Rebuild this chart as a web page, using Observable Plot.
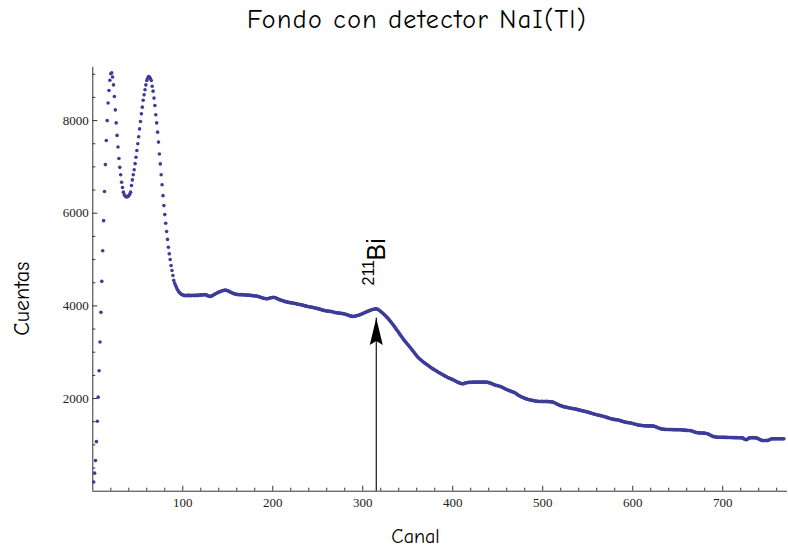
<!DOCTYPE html>
<html>
<head>
<meta charset="utf-8">
<script src="https://cdn.jsdelivr.net/npm/d3@7"></script>
<script src="https://cdn.jsdelivr.net/npm/@observablehq/plot@0.6"></script>
<style>
  html, body { margin: 0; padding: 0; background: #fff; }
  #chart { position: relative; width: 788px; height: 548px; overflow: hidden; }
  #title { position: relative; height: 46px; }
  #title span {
    position: absolute; left: 0; width: 834px; top: 7px;
    text-align: center; line-height: 1; letter-spacing: 1.4px;
    font-family: "Comic Sans MS", "Comic Neue", "DejaVu Sans", sans-serif;
    font-size: 26px; color: #000; white-space: nowrap;
  }
  svg { display: block; }
</style>
</head>
<body>
<div id="chart">
  <div id="title"><span>Fondo con detector NaI(Tl)</span></div>
</div>
<script>
// Background spectrum of a NaI(Tl) detector: counts per channel, channels 1..768
const counts = [
  200, 390, 660, 1070, 1510, 2030, 2600, 3220, 3860, 4530,
  5190, 5840, 6470, 7050, 7570, 8000, 8380, 8650, 8870, 9010,
  9030, 8940, 8770, 8520, 8230, 7950, 7680, 7430, 7180, 6990,
  6830, 6670, 6555, 6455, 6400, 6370, 6355, 6350, 6360, 6380,
  6410, 6455, 6600, 6720, 6830, 6940, 7070, 7210, 7355, 7500,
  7650, 7820, 7980, 8145, 8290, 8440, 8555, 8665, 8770, 8865,
  8915, 8950, 8940, 8905, 8865, 8740, 8635, 8485, 8325, 8125,
  7950, 7750, 7535, 7280, 7065, 6830, 6615, 6380, 6165, 5970,
  5785, 5605, 5435, 5265, 5125, 5000, 4870, 4765, 4655, 4550,
  4490, 4440, 4395, 4355, 4320, 4295, 4275, 4258, 4245, 4236,
  4228, 4222, 4230, 4218, 4225, 4232, 4220, 4226, 4219, 4230,
  4224, 4231, 4218, 4227, 4233, 4222, 4229, 4236, 4228, 4240,
  4233, 4242, 4238, 4245, 4236, 4241, 4228, 4215, 4210, 4203,
  4206, 4212, 4222, 4235, 4246, 4258, 4266, 4279, 4288, 4297,
  4305, 4312, 4320, 4326, 4331, 4338, 4335, 4340, 4331, 4325,
  4318, 4306, 4297, 4290, 4278, 4270, 4262, 4258, 4250, 4249,
  4244, 4247, 4241, 4243, 4238, 4245, 4240, 4236, 4242, 4235,
  4230, 4236, 4228, 4232, 4225, 4229, 4220, 4224, 4216, 4218,
  4212, 4215, 4208, 4201, 4196, 4190, 4182, 4176, 4170, 4166,
  4160, 4158, 4152, 4155, 4160, 4166, 4171, 4176, 4180, 4182,
  4183, 4180, 4175, 4166, 4156, 4146, 4138, 4130, 4122, 4118,
  4110, 4104, 4098, 4092, 4088, 4082, 4078, 4075, 4070, 4068,
  4066, 4062, 4058, 4055, 4050, 4046, 4040, 4036, 4032, 4030,
  4026, 4022, 4016, 4012, 4006, 4000, 3995, 3990, 3986, 3982,
  3980, 3975, 3972, 3968, 3965, 3961, 3955, 3950, 3946, 3940,
  3936, 3930, 3925, 3918, 3912, 3908, 3902, 3898, 3893, 3890,
  3888, 3884, 3882, 3881, 3878, 3872, 3868, 3864, 3858, 3855,
  3852, 3848, 3846, 3843, 3840, 3838, 3835, 3832, 3830, 3826,
  3820, 3812, 3805, 3798, 3790, 3784, 3778, 3773, 3772, 3774,
  3776, 3780, 3786, 3792, 3798, 3804, 3810, 3818, 3826, 3835,
  3845, 3853, 3862, 3870, 3878, 3886, 3894, 3902, 3910, 3916,
  3922, 3928, 3932, 3935, 3934, 3930, 3922, 3910, 3895, 3878,
  3862, 3845, 3828, 3810, 3792, 3772, 3752, 3730, 3708, 3685,
  3660, 3635, 3610, 3585, 3558, 3530, 3503, 3476, 3450, 3422,
  3395, 3368, 3340, 3312, 3286, 3260, 3236, 3212, 3188, 3165,
  3142, 3118, 3094, 3070, 3046, 3022, 2998, 2972, 2946, 2920,
  2898, 2878, 2860, 2842, 2826, 2810, 2794, 2778, 2764, 2750,
  2736, 2722, 2708, 2694, 2680, 2666, 2652, 2640, 2628, 2616,
  2604, 2592, 2580, 2568, 2556, 2545, 2534, 2523, 2512, 2500,
  2490, 2480, 2470, 2460, 2450, 2440, 2432, 2425, 2416, 2408,
  2398, 2388, 2378, 2368, 2358, 2348, 2340, 2332, 2326, 2320,
  2318, 2322, 2328, 2335, 2340, 2344, 2346, 2349, 2350, 2352,
  2350, 2353, 2355, 2352, 2356, 2354, 2351, 2355, 2357, 2353,
  2356, 2352, 2354, 2358, 2355, 2350, 2353, 2354, 2348, 2344,
  2338, 2332, 2325, 2316, 2306, 2298, 2290, 2284, 2280, 2275,
  2270, 2265, 2261, 2252, 2242, 2232, 2222, 2212, 2202, 2194,
  2186, 2178, 2170, 2162, 2155, 2148, 2142, 2135, 2125, 2112,
  2098, 2084, 2072, 2060, 2050, 2040, 2030, 2022, 2014, 2006,
  1998, 1992, 1986, 1980, 1975, 1970, 1966, 1962, 1958, 1955,
  1950, 1946, 1942, 1940, 1938, 1936, 1937, 1935, 1938, 1936,
  1934, 1937, 1935, 1938, 1933, 1936, 1934, 1930, 1932, 1928,
  1924, 1918, 1910, 1900, 1890, 1880, 1870, 1860, 1852, 1845,
  1838, 1832, 1826, 1820, 1815, 1812, 1809, 1805, 1800, 1795,
  1792, 1788, 1785, 1782, 1778, 1774, 1770, 1766, 1760, 1755,
  1750, 1745, 1740, 1735, 1730, 1726, 1722, 1718, 1713, 1708,
  1702, 1696, 1690, 1684, 1678, 1672, 1666, 1660, 1655, 1650,
  1645, 1640, 1636, 1632, 1627, 1622, 1617, 1612, 1606, 1600,
  1594, 1588, 1582, 1576, 1570, 1565, 1560, 1555, 1550, 1546,
  1544, 1542, 1540, 1536, 1530, 1524, 1518, 1512, 1506, 1500,
  1495, 1490, 1486, 1482, 1479, 1477, 1475, 1472, 1468, 1462,
  1456, 1450, 1445, 1440, 1435, 1430, 1426, 1422, 1420, 1418,
  1416, 1414, 1412, 1410, 1412, 1409, 1411, 1408, 1410, 1407,
  1409, 1406, 1404, 1400, 1394, 1386, 1378, 1370, 1362, 1355,
  1350, 1345, 1340, 1338, 1335, 1334, 1332, 1333, 1331, 1332,
  1330, 1332, 1331, 1329, 1330, 1328, 1330, 1327, 1329, 1326,
  1328, 1325, 1327, 1324, 1322, 1320, 1318, 1316, 1314, 1312,
  1311, 1310, 1309, 1308, 1304, 1298, 1290, 1282, 1276, 1270,
  1266, 1263, 1260, 1258, 1257, 1256, 1255, 1254, 1253, 1252,
  1250, 1246, 1240, 1232, 1222, 1212, 1202, 1192, 1184, 1178,
  1174, 1170, 1168, 1166, 1165, 1164, 1165, 1163, 1164, 1162,
  1163, 1161, 1162, 1160, 1161, 1159, 1160, 1158, 1159, 1157,
  1158, 1156, 1157, 1155, 1156, 1154, 1155, 1153, 1154, 1152,
  1153, 1150, 1140, 1125, 1115, 1112, 1115, 1130, 1145, 1152,
  1155, 1153, 1156, 1154, 1155, 1153, 1150, 1146, 1138, 1128,
  1118, 1108, 1100, 1095, 1092, 1094, 1093, 1095, 1092, 1096,
  1100, 1112, 1122, 1128, 1130, 1131, 1132, 1130, 1131, 1133,
  1132, 1130, 1131, 1133, 1131, 1130, 1132, 1131
];
const firstChannel = 1;

// Axis ticks
const xMajorTicks = [100, 200, 300, 400, 500, 600, 700];
const xMinorTicks = d3.range(20, 770, 20).filter(v => v % 100 !== 0);
const yMajorTicks = [2000, 4000, 6000, 8000];
const yMinorTicks = d3.range(500, 9001, 500).filter(v => v % 2000 !== 0);

// Annotated photopeak
const peakChannel = 315;
const peakArrowTip = 3740;
const peakLabelAt = 4440;
const peakIsotope = "Bi";
const peakMassNumber = "211";

const xLabel = "Canal";
const yLabel = "Cuentas";

const spectrum = counts.map((c, i) => ({channel: firstChannel + i, counts: c}));
const peak = [{channel: peakChannel, tip: peakArrowTip, labelAt: peakLabelAt}];

// Layout
const W = 788, H = 502;
const mL = 92.3, mR = 1, mT = 20.8, mB = 57.3;
const innerW = W - mL - mR, innerH = H - mT - mB;
const majorLen = 5, minorLen = 3;
const axisColor = "#333";
const dotColor = "#3d3d99";
const comic = '"Comic Sans MS", "Comic Neue", "DejaVu Sans", sans-serif';
const serif = '"Liberation Serif", "Times New Roman", serif';

// Filled, notched arrowhead with its tip at the origin, pointing up
const arrowHead = {
  draw(context) {
    context.moveTo(0, 0);
    context.lineTo(6.5, 27);
    context.lineTo(0, 23);
    context.lineTo(-6.5, 27);
    context.closePath();
  }
};

const chart = Plot.plot({
  width: W, height: H,
  marginLeft: mL, marginRight: mR, marginTop: mT, marginBottom: mB,
  x: {domain: [0, 772], axis: null},
  y: {domain: [0, 9150], axis: null},
  style: {background: "white", overflow: "visible"},
  marks: [
    // axes through the origin
    Plot.ruleY([0], {stroke: axisColor, strokeWidth: 1}),
    Plot.ruleX([0], {stroke: axisColor, strokeWidth: 1}),
    // inward ticks
    Plot.tickX(xMajorTicks, {x: d => d, stroke: axisColor, insetTop: innerH - majorLen}),
    Plot.tickX(xMinorTicks, {x: d => d, stroke: axisColor, insetTop: innerH - minorLen}),
    Plot.tickY(yMajorTicks, {y: d => d, stroke: axisColor, insetRight: innerW - majorLen}),
    Plot.tickY(yMinorTicks, {y: d => d, stroke: axisColor, insetRight: innerW - minorLen}),
    // tick labels
    Plot.axisX({ticks: xMajorTicks, tickSize: 0, tickPadding: 7, label: null,
      tickFormat: d3.format("d"), fontFamily: serif, fontSize: 13, color: "#222"}),
    Plot.axisY({ticks: yMajorTicks, tickSize: 0, tickPadding: 4, label: null,
      tickFormat: d3.format("d"), fontFamily: serif, fontSize: 13, color: "#222"}),
    // spectrum
    Plot.dot(spectrum, {x: "channel", y: "counts", r: 1.8, fill: dotColor, stroke: null}),
    // peak marker
    Plot.ruleX(peak, {x: "channel", y1: () => 0, y2: "tip", stroke: "black", strokeWidth: 1.1}),
    Plot.dot(peak, {x: "channel", y: "tip", symbol: arrowHead, fill: "black", stroke: null, r: 5}),
    Plot.text(peak, {x: "channel", y: "labelAt", text: () => peakMassNumber, rotate: -90,
      textAnchor: "start", lineAnchor: "bottom", dx: -2.5, fontSize: 16,
      fontFamily: '"Liberation Sans", Arial, sans-serif', fill: "black"}),
    Plot.text(peak, {x: "channel", y: "labelAt", text: () => peakIsotope, rotate: -90,
      textAnchor: "start", lineAnchor: "bottom", dx: 8.5, dy: -25, fontSize: 25,
      fontFamily: '"Liberation Sans", Arial, sans-serif', fill: "black"}),
    // axis titles
    Plot.text([yLabel], {frameAnchor: "left", rotate: -90, textAnchor: "middle",
      lineAnchor: "bottom", dx: -64, dy: 19.5, fontSize: 22, fontFamily: comic, fill: "black"}),
    Plot.text([xLabel], {frameAnchor: "bottom", textAnchor: "middle",
      lineAnchor: "bottom", dx: -24.6, dy: 51.5, fontSize: 20, fontFamily: comic, fill: "black"})
  ]
});

document.getElementById("chart").appendChild(chart);
</script>
</body>
</html>
